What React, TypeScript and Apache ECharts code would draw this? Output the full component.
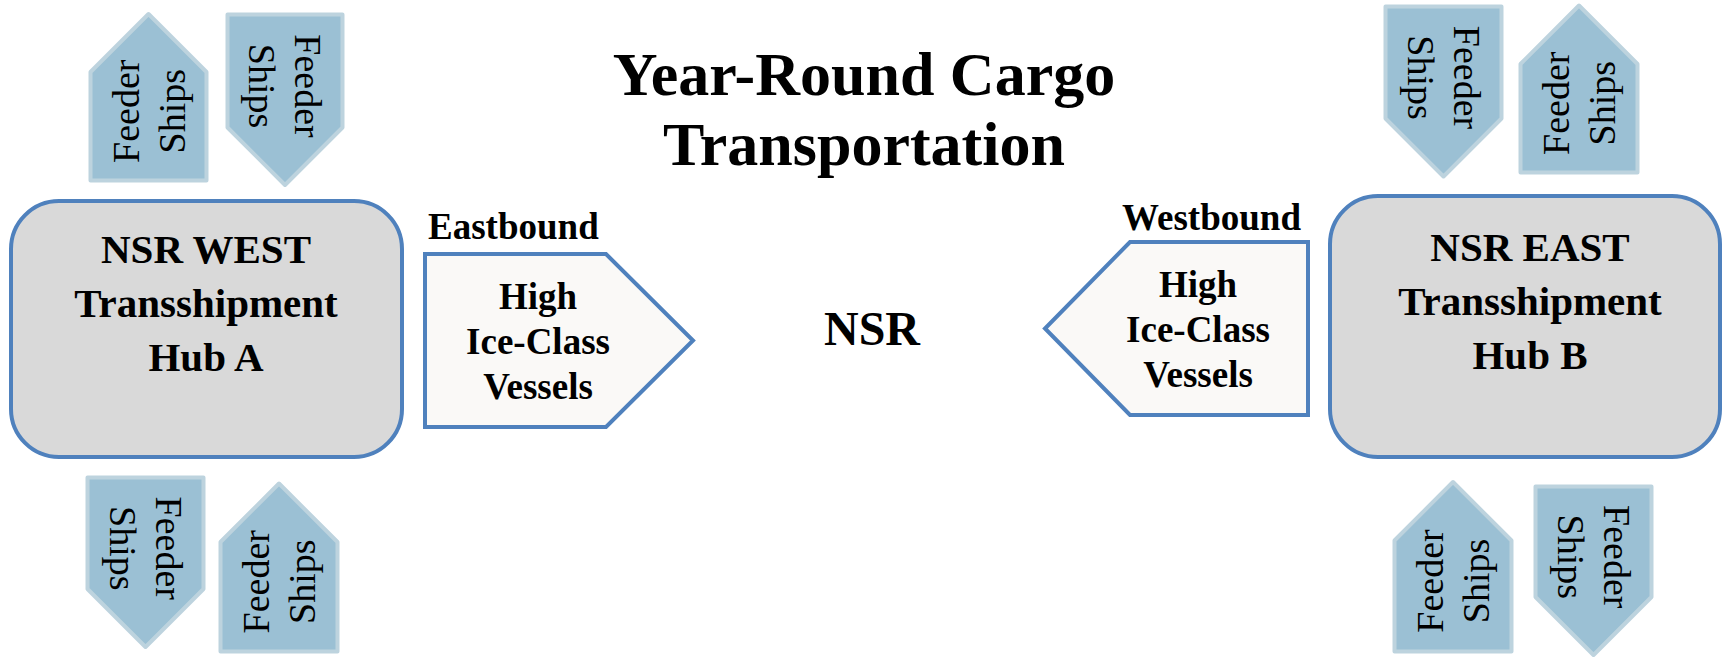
import React, { useEffect, useRef } from "react";
import * as echarts from "echarts";

// ---- Content ----
const titleLines = ["Year-Round Cargo", "Transportation"];
const hubWestLines = ["NSR WEST", "Transshipment", "Hub A"];
const hubEastLines = ["NSR EAST", "Transshipment", "Hub B"];
const vesselLines = ["High", "Ice-Class", "Vessels"];
const directionLabels = ["Eastbound", "Westbound"];
const routeLabel = "NSR";
const feederLines = ["Feeder", "Ships"];
const feederDirections = ["up", "down", "down", "up", "down", "up", "up", "down"];

// ---- Layout (pixels) ----
const feederBoxes = [
  [90.5, 206.5, 14, 180.5],
  [227.5, 342.5, 14.5, 185],
  [87.5, 203.5, 477.5, 647],
  [220.5, 337.5, 483.5, 651.5],
  [1385.5, 1501.5, 6.5, 176.5],
  [1520.5, 1637.5, 5.5, 172.5],
  [1394.5, 1511.5, 482, 651.5],
  [1535.5, 1651.5, 486.5, 655],
];

const FONT = "'Liberation Serif', 'Times New Roman', serif";
const BLUE = "#4F81BD";

function feederElements(): any[] {
  const els: any[] = [];
  feederBoxes.forEach(([x0, x1, y0, y1], i) => {
    const dir = feederDirections[i];
    const half = (x1 - x0) / 2;
    const cx = (x0 + x1) / 2;
    let points: number[][];
    let ty: number;
    if (dir === "up") {
      const sh = y0 + half;
      points = [[cx, y0], [x1, sh], [x1, y1], [x0, y1], [x0, sh]];
      ty = (sh + y1) / 2 - 15;
    } else {
      const sh = y1 - half;
      points = [[x0, y0], [x1, y0], [x1, sh], [cx, y1], [x0, sh]];
      ty = (y0 + sh) / 2 + 15;
    }
    els.push({
      type: "polygon",
      shape: { points },
      style: { fill: "#9BC0D4", stroke: "#BDD3DE", lineWidth: 4, lineJoin: "round" },
    });
    els.push({
      type: "text",
      x: cx,
      y: ty,
      rotation: dir === "up" ? Math.PI / 2 : -Math.PI / 2,
      style: {
        text: feederLines.join("\n"),
        font: `normal 38px ${FONT}`,
        fill: "#000",
        align: "center",
        verticalAlign: "middle",
        lineHeight: 46,
      },
    });
  });
  return els;
}

export default function App() {
  const ref = useRef<HTMLDivElement>(null);
  useEffect(() => {
    if (!ref.current) return;
    const chart = echarts.init(ref.current, undefined, { renderer: "svg" });
    const elements: any[] = [
      // title
      {
        type: "text",
        x: 864,
        y: 109,
        style: {
          text: titleLines.join("\n"),
          font: `bold 62px ${FONT}`,
          fill: "#000",
          align: "center",
          verticalAlign: "middle",
          lineHeight: 70,
        },
      },
      // west hub
      {
        type: "rect",
        shape: { x: 11, y: 201, width: 391, height: 256, r: 48 },
        style: { fill: "#D9D9D9", stroke: BLUE, lineWidth: 4 },
      },
      {
        type: "text",
        x: 206,
        y: 303,
        style: {
          text: hubWestLines.join("\n"),
          font: `bold 41px ${FONT}`,
          fill: "#000",
          align: "center",
          verticalAlign: "middle",
          lineHeight: 54,
        },
      },
      // east hub
      {
        type: "rect",
        shape: { x: 1330, y: 196, width: 390, height: 261, r: 48 },
        style: { fill: "#D9D9D9", stroke: BLUE, lineWidth: 4 },
      },
      {
        type: "text",
        x: 1530,
        y: 301,
        style: {
          text: hubEastLines.join("\n"),
          font: `bold 41px ${FONT}`,
          fill: "#000",
          align: "center",
          verticalAlign: "middle",
          lineHeight: 54,
        },
      },
      // eastbound arrow
      {
        type: "polygon",
        shape: { points: [[425, 254], [606, 254], [693, 340.5], [606, 427], [425, 427]] },
        style: { fill: "#FAF9F7", stroke: BLUE, lineWidth: 4, lineJoin: "miter" },
      },
      {
        type: "text",
        x: 538,
        y: 341,
        style: {
          text: vesselLines.join("\n"),
          font: `bold 37px ${FONT}`,
          fill: "#000",
          align: "center",
          verticalAlign: "middle",
          lineHeight: 45,
        },
      },
      {
        type: "text",
        x: 428,
        y: 226,
        style: {
          text: directionLabels[0],
          font: `bold 37px ${FONT}`,
          fill: "#000",
          align: "left",
          verticalAlign: "middle",
        },
      },
      // westbound arrow
      {
        type: "polygon",
        shape: { points: [[1308, 242], [1130, 242], [1045, 328.5], [1130, 415], [1308, 415]] },
        style: { fill: "#FAF9F7", stroke: BLUE, lineWidth: 4, lineJoin: "miter" },
      },
      {
        type: "text",
        x: 1198,
        y: 329,
        style: {
          text: vesselLines.join("\n"),
          font: `bold 37px ${FONT}`,
          fill: "#000",
          align: "center",
          verticalAlign: "middle",
          lineHeight: 45,
        },
      },
      {
        type: "text",
        x: 1301,
        y: 217,
        style: {
          text: directionLabels[1],
          font: `bold 37px ${FONT}`,
          fill: "#000",
          align: "right",
          verticalAlign: "middle",
        },
      },
      // NSR
      {
        type: "text",
        x: 872,
        y: 328,
        style: {
          text: routeLabel,
          font: `bold 48px ${FONT}`,
          fill: "#000",
          align: "center",
          verticalAlign: "middle",
        },
      },
      ...feederElements(),
    ];
    chart.setOption({
      animation: false,
      backgroundColor: "#ffffff",
      graphic: { elements },
    });
    return () => chart.dispose();
  }, []);
  return (
    <div
      ref={ref}
      style={{ position: "fixed", left: 0, top: 0, width: 1725, height: 658, background: "#fff" }}
    />
  );
}
